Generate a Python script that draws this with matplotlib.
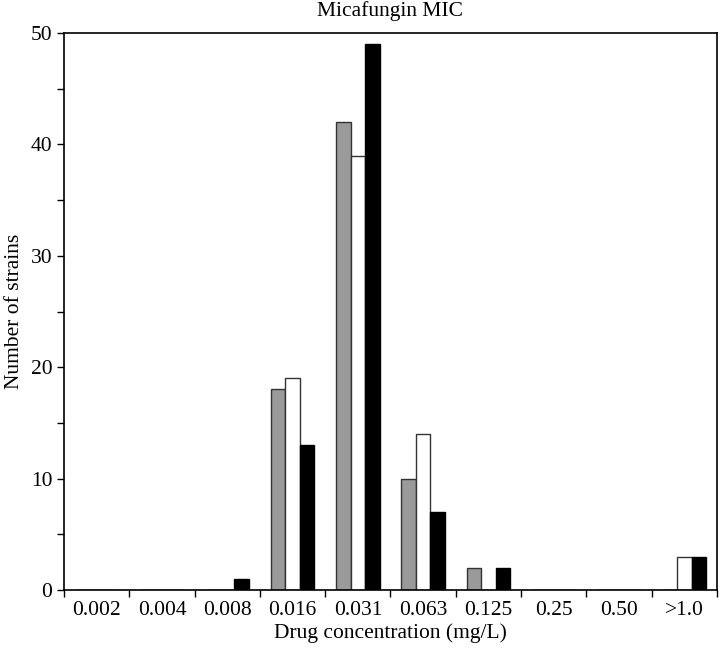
import numpy as np
import matplotlib.pyplot as plt
from matplotlib.ticker import MultipleLocator

plt.rcParams['font.family'] = ['Liberation Serif', 'DejaVu Serif']

categories = ['0.002', '0.004', '0.008', '0.016', '0.031', '0.063', '0.125', '0.25', '0.50', '>1.0']
gray_counts = [0, 0, 0, 18, 42, 10, 2, 0, 0, 0]
white_counts = [0, 0, 0, 19, 39, 14, 0, 0, 0, 3]
black_counts = [0, 0, 1, 13, 49, 7, 2, 0, 0, 3]

fig = plt.figure(figsize=(7.2, 6.54), dpi=100)
ax = fig.add_axes([0.0889, 0.0979, 0.9069, 0.8516])

x = np.arange(len(categories))
w = 0.222
ax.bar(x - w, gray_counts, w, color='#9a9a9a', edgecolor='#333333', linewidth=1)
ax.bar(x, white_counts, w, color='white', edgecolor='#333333', linewidth=1)
ax.bar(x + w, black_counts, w, color='black', edgecolor='black', linewidth=1)

ax.set_xlim(-0.5, len(categories) - 0.5)
ax.set_ylim(0, 50)

# ticks sit between categories, labels under the centres
ax.set_xticks(np.arange(len(categories) + 1) - 0.5)
ax.set_xticklabels([])
ax.set_xticks(x, minor=True)
ax.set_xticklabels(categories, minor=True)
ax.tick_params(axis='x', which='major', direction='out', length=5, width=1)
ax.tick_params(axis='x', which='minor', length=0, labelsize=15.5, pad=8)

ax.yaxis.set_major_locator(MultipleLocator(10))
ax.yaxis.set_minor_locator(MultipleLocator(5))
ax.tick_params(axis='y', which='both', direction='out', length=5, width=1, labelsize=15.5)

ax.set_xlabel('Drug concentration (mg/L)', fontsize=15.5, labelpad=2)
ax.set_ylabel('Number of strains', fontsize=15.5, labelpad=5)
ax.set_title('Micafungin MIC', fontsize=15.5, pad=12)

for s in ax.spines.values():
    s.set_linewidth(1.2)

fig.savefig('out.png', dpi=100)
